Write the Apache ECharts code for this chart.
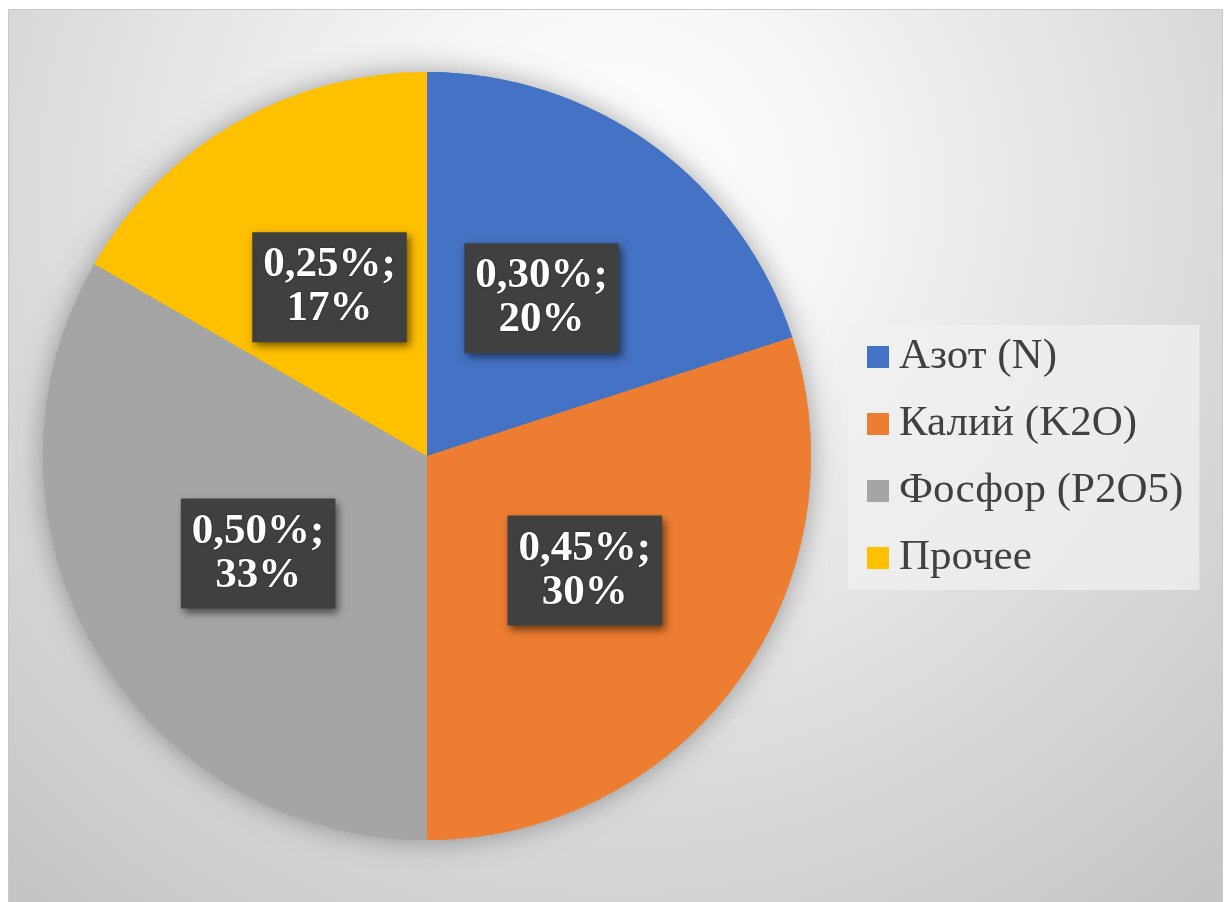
<!DOCTYPE html>
<html>
<head>
<meta charset="utf-8">
<script src="https://cdn.jsdelivr.net/npm/echarts@6/dist/echarts.min.js"></script>
<style>
  html, body { margin: 0; padding: 0; background: #fff; }
  #nutrientPie { width: 1226px; height: 902px; }
</style>
</head>
<body>
<div id="nutrientPie"></div>
<script>
// состав удобрения
const categories = ['Азот (N)', 'Калий (K2O)', 'Фосфор (P2O5)', 'Прочее'];
const shares = [0.30, 0.45, 0.50, 0.25];
const sliceColors = ['#4472C4', '#ED7D31', '#A5A5A5', '#FFC000'];

const pieData = categories.map((name, i) => ({
  name: name,
  value: shares[i],
  itemStyle: { color: sliceColors[i] }
}));

const serif = 'Liberation Serif';
const pieCenter = [427, 456];
const pieRadius = 384;

const chart = echarts.init(document.getElementById('nutrientPie'));
chart.setOption({
  animation: false,
  backgroundColor: '#fff',
  graphic: [{
    type: 'rect',
    z: -10,
    silent: true,
    shape: { x: 8.5, y: 9.5, width: 1214, height: 900 },
    style: {
      fill: {
        type: 'radial', x: 615, y: 190, r: 920, global: true,
        colorStops: [
          { offset: 0, color: '#ffffff' },
          { offset: 0.2, color: '#f8f8f8' },
          { offset: 0.4, color: '#ebebeb' },
          { offset: 0.66, color: '#dadada' },
          { offset: 1, color: '#c5c5c5' }
        ]
      },
      stroke: '#c8c8c8',
      lineWidth: 1
    }
  }],
  legend: {
    data: categories,
    orient: 'vertical',
    left: 848,
    top: 325,
    padding: [10, 16, 10, 19],
    backgroundColor: 'rgba(240,240,240,0.75)',
    itemWidth: 22,
    itemHeight: 22,
    itemGap: 23,
    icon: 'rect',
    textStyle: {
      fontFamily: serif,
      fontSize: 43,
      lineHeight: 44,
      color: '#404040',
      padding: [0, 0, 0, 5]
    }
  },
  series: [
    {
      // подложка для тени
      type: 'pie',
      silent: true,
      center: pieCenter,
      radius: pieRadius,
      startAngle: 90,
      label: { show: false },
      labelLine: { show: false },
      itemStyle: {
        shadowBlur: 28,
        shadowColor: 'rgba(0,0,0,0.35)'
      },
      data: pieData
    },
    {
      type: 'pie',
      name: 'Состав',
      center: pieCenter,
      radius: pieRadius,
      startAngle: 90,
      itemStyle: { borderWidth: 0 },
      label: {
        show: true,
        position: 'inside',
        formatter: p => p.value.toFixed(2).replace('.', ',') + '%;\n' + Math.round(p.percent) + '%',
        fontFamily: serif,
        fontWeight: 'bold',
        fontSize: 43,
        lineHeight: 44,
        color: '#fff',
        textShadowColor: 'rgba(0,0,0,0.6)',
        textShadowBlur: 2,
        backgroundColor: '#404040',
        padding: [11, 11, 11, 11],
        shadowColor: 'rgba(0,0,0,0.55)',
        shadowBlur: 8,
        shadowOffsetX: 3,
        shadowOffsetY: 4
      },
      labelLine: { show: false },
      emphasis: { disabled: true },
      data: pieData
    }
  ]
});
</script>
</body>
</html>
